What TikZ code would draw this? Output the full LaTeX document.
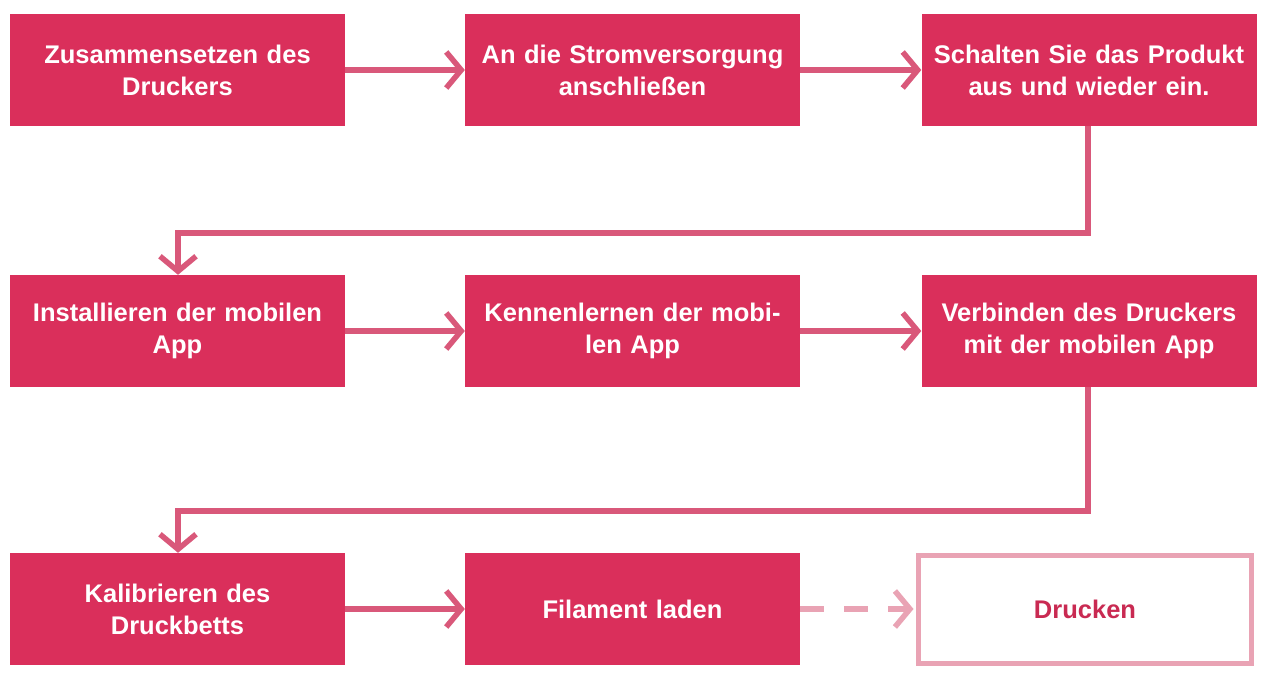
\documentclass[tikz,border=0pt]{standalone}
\usepackage{fontspec}
\setmainfont{Liberation Sans}
\usetikzlibrary{arrows.meta}
\definecolor{boxred}{HTML}{DA2F5B}
\definecolor{arrowred}{HTML}{D9587A}
\definecolor{lightpink}{HTML}{E9A3B4}
\definecolor{textred}{HTML}{C92A52}
\begin{document}
\begin{tikzpicture}[x=1pt,y=-1pt,
  stepbox/.style={fill=boxred,draw=none,minimum width=335pt,minimum height=112pt,
    text=white,font=\fontsize{25.5}{32}\selectfont\bfseries,align=center,inner sep=0pt,text width=334pt},
  endbox/.style={fill=white,draw=lightpink,line width=5pt,minimum width=333pt,minimum height=108pt,
    text=textred,font=\fontsize{25.5}{32}\selectfont\bfseries,align=center,inner sep=0pt},
  conn/.style={draw=arrowred,line width=5.5pt,-{Straight Barb[length=15pt,width=36pt,line width=5.5pt]}},
  dconn/.style={draw=lightpink,line width=5.5pt,dash pattern=on 24pt off 20pt,-{Straight Barb[length=15pt,width=36pt,line width=5.5pt]}}]
\useasboundingbox (0,0) rectangle (1262,676);
\node[stepbox] (a) at (177.5,70) {Zusammensetzen des\\Druckers};
\node[stepbox] (b) at (632.5,70) {An die Stromversorgung\\anschließen};
\node[stepbox] (c) at (1089,70) {Schalten Sie das Produkt\\aus und wieder ein.};
\node[stepbox] (d) at (177.5,331) {Installieren der mobilen\\App};
\node[stepbox] (e) at (632.5,331) {Kennenlernen der mobi-\\len App};
\node[stepbox] (f) at (1089,331) {Verbinden des Druckers\\mit der mobilen App};
\node[stepbox] (g) at (177.5,609) {Kalibrieren des\\Druckbetts};
\node[stepbox] (h) at (632.5,609) {Filament laden};
\node[endbox] (i) at (1085,609) {Drucken};
\coordinate (c1) at (1088,233);
\coordinate (c2) at (178,233);
\coordinate (f1) at (1088,511);
\coordinate (f2) at (178,511);
\draw[conn] (a.east) -- (b.west);
\draw[conn] (b.east) -- (c.west);
\draw[conn] (c.south -| c1) -- (c1) -- (c2) -- (d.north -| c2);
\draw[conn] (d.east) -- (e.west);
\draw[conn] (e.east) -- (f.west);
\draw[conn] (f.south -| f1) -- (f1) -- (f2) -- (g.north -| f2);
\draw[conn] (g.east) -- (h.west);
\draw[dconn] (h.east) -- ([xshift=-2.5pt]i.west);
\end{tikzpicture}
\end{document}
